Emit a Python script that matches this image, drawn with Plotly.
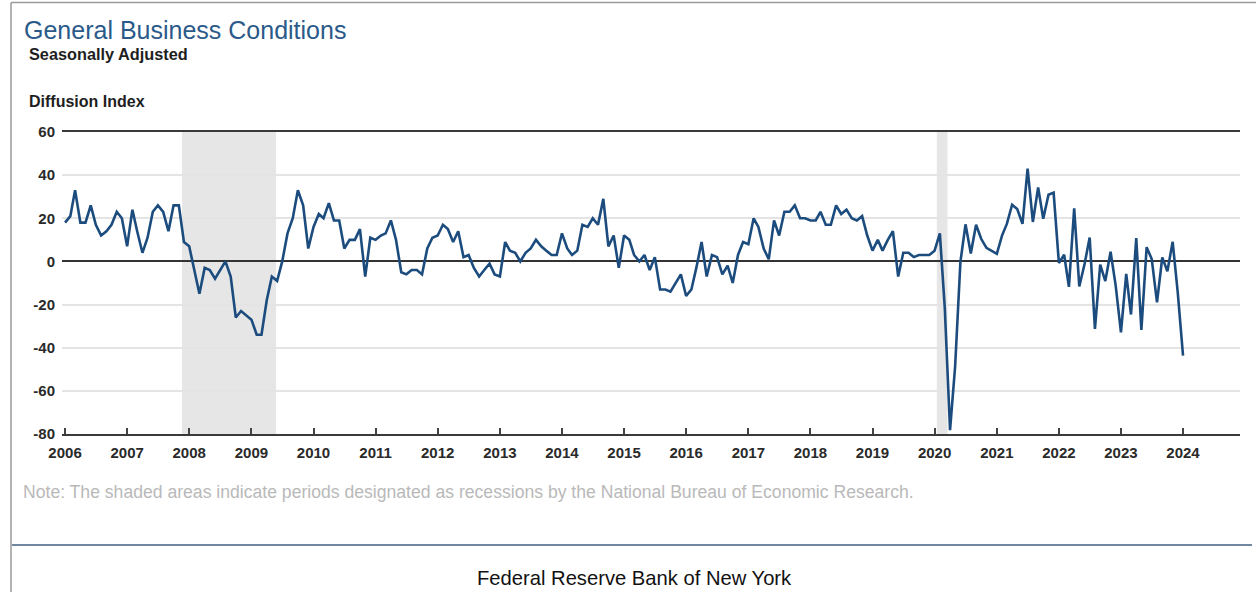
import pandas as pd
import plotly.graph_objects as go

# ---------------- data ----------------
v2006 = [18, 21, 33, 18, 18, 26, 17, 12, 14, 17, 23, 20]
v2007 = [7, 24, 14, 4, 11, 23, 26, 23, 14, 26, 26, 9]
v2008 = [7, -4, -15, -3, -4, -8, -4, 0, -7, -26, -23, -25]
v2009 = [-27, -34, -34, -18, -7, -9, 0, 13, 20, 33, 26, 6]
v2010 = [16, 22, 20, 27, 19, 19, 6, 10, 10, 15, -7, 11]
v2011 = [10, 12, 13, 19, 10, -5, -6, -4, -4, -6, 6, 11]
v2012 = [12, 17, 15, 9, 14, 2, 3, -3, -7, -4, -1, -6]
v2013 = [-7, 9, 5, 4, 0, 4, 6, 10, 7, 5, 3, 3]
v2014 = [13, 6, 3, 5, 17, 16, 20, 17, 29, 7, 12, -3]
v2015 = [12, 10, 3, 0, 3, -4, 2, -13, -13, -14, -10, -6]
v2016 = [-16, -13, -3, 9, -7, 3, 2, -6, -2, -10, 3, 9]
v2017 = [8, 20, 16, 6, 1, 19, 12, 23, 23, 26, 20, 20]
v2018 = [19, 19, 23, 17, 17, 26, 22, 24, 20, 19, 21, 12]
v2019 = [5, 10, 5, 10, 14, -7, 4, 4, 2, 3, 3, 3]
v2020 = [5, 13, -21.5, -78.2, -48.5, -0.2, 17.2, 3.7, 17.0, 10.5, 6.3, 4.9]
v2021 = [3.5, 12.1, 17.4, 26.3, 24.3, 17.4, 43.0, 18.3, 34.3, 19.8, 30.9, 31.9]
v2022 = [-0.7, 3.1, -11.8, 24.6, -11.6, -1.2, 11.1, -31.3, -1.5, -9.1, 4.5, -11.2]
v2023 = [-32.9, -5.8, -24.6, 10.8, -31.8, 6.6, 1.1, -19.0, 1.9, -4.6, 9.1, -14.5]
v2024 = [-43.7]

first_month = "2006-01-01"
recession_starts = ["2007-11-20", "2020-01-14"]
recession_ends = ["2009-05-26", "2020-03-17"]

y_ticks = [60, 40, 20, 0, -20, -40, -60, -80]

title_text = "General Business Conditions"
subtitle_text = "Seasonally Adjusted"
yaxis_text = "Diffusion Index"
note_text = ("Note: The shaded areas indicate periods designated as recessions "
             "by the National Bureau of Economic Research.")
footer_text = "Federal Reserve Bank of New York"

# ---------------- build ----------------
values = (v2006 + v2007 + v2008 + v2009 + v2010 + v2011 + v2012 + v2013 + v2014
          + v2015 + v2016 + v2017 + v2018 + v2019 + v2020 + v2021 + v2022
          + v2023 + v2024)
dates = pd.date_range(first_month, periods=len(values), freq="MS")

W, H = 1256, 592
ML, MR, MT, MB = 62, 16, 132, 158
PW, PH = W - ML - MR, H - MT - MB


def px(xpix):
    return (xpix - ML) / PW


def py(ypix):
    return (H - MB - ypix) / PH


FONT = "Liberation Sans, Arial, sans-serif"

fig = go.Figure()
fig.add_trace(go.Scatter(
    x=dates, y=values, mode="lines",
    line=dict(color="#1c4c7e", width=2.6),
    hoverinfo="x+y", showlegend=False,
))

shapes = []
for s, e in zip(recession_starts, recession_ends):
    shapes.append(dict(type="rect", xref="x", yref="y", x0=s, x1=e, y0=-80, y1=60,
                       fillcolor="#e6e6e6", line=dict(width=0), layer="below"))
# separator line above footer
shapes.append(dict(type="line", xref="paper", yref="paper",
                   x0=px(12), x1=px(1252), y0=py(545), y1=py(545),
                   line=dict(color="#6f87a0", width=2)))
# image frame (left and top)
shapes.append(dict(type="line", xref="paper", yref="paper",
                   x0=px(11), x1=px(11), y0=py(2.5), y1=py(592),
                   line=dict(color="#9a9a9a", width=1.5)))
shapes.append(dict(type="line", xref="paper", yref="paper",
                   x0=px(11), x1=px(1256), y0=py(2.5), y1=py(2.5),
                   line=dict(color="#9a9a9a", width=1.5)))

annotations = [
    dict(text=title_text, x=px(22), y=py(30), xref="paper", yref="paper",
         xanchor="left", yanchor="middle", showarrow=False,
         font=dict(family=FONT, size=25, color="#2b5a8a")),
    dict(text=subtitle_text, x=px(27), y=py(54), xref="paper", yref="paper",
         xanchor="left", yanchor="middle", showarrow=False,
         font=dict(family=FONT, size=16.3, color="#1e1e1e", weight="bold")),
    dict(text=yaxis_text, x=px(27), y=py(101), xref="paper", yref="paper",
         xanchor="left", yanchor="middle", showarrow=False,
         font=dict(family=FONT, size=16, color="#1e1e1e", weight="bold")),
    dict(text=note_text, x=px(21), y=py(492), xref="paper", yref="paper",
         xanchor="left", yanchor="middle", showarrow=False,
         font=dict(family=FONT, size=17.6, color="#b9b9b9")),
    dict(text=footer_text, x=px(634), y=py(578), xref="paper", yref="paper",
         xanchor="center", yanchor="middle", showarrow=False,
         font=dict(family=FONT, size=20.2, color="#111111")),
]

fig.update_layout(
    width=W, height=H,
    margin=dict(l=ML, r=MR, t=MT, b=MB, pad=0),
    paper_bgcolor="white", plot_bgcolor="white",
    shapes=shapes, annotations=annotations,
    font=dict(family=FONT),
    xaxis=dict(
        type="date", range=["2005-12-14", "2024-12-01"],
        tick0="2006-01-01", dtick="M12", tickformat="%Y",
        ticks="inside", ticklen=6, tickwidth=1.5, tickcolor="#444",
        showgrid=False, showline=True, mirror=True, linecolor="#3a3a3a", linewidth=1.5,
        tickfont=dict(family=FONT, size=15, color="#2a2a2a", weight="bold"),
        ticklabelstandoff=4, zeroline=False, fixedrange=True,
    ),
    yaxis=dict(
        range=[-80, 60], tickvals=y_ticks, ticktext=[str(v) for v in y_ticks],
        showgrid=True, gridcolor="#e4e4e4", gridwidth=1.5,
        zeroline=True, zerolinecolor="#333333", zerolinewidth=1.8,
        showline=False, ticks="",
        tickfont=dict(family=FONT, size=15, color="#2a2a2a", weight="bold"),
        ticklabelstandoff=6, fixedrange=True,
    ),
)

fig.write_html("out.html", config={"displayModeBar": False},
               post_script="document.body.style.margin='0';")
